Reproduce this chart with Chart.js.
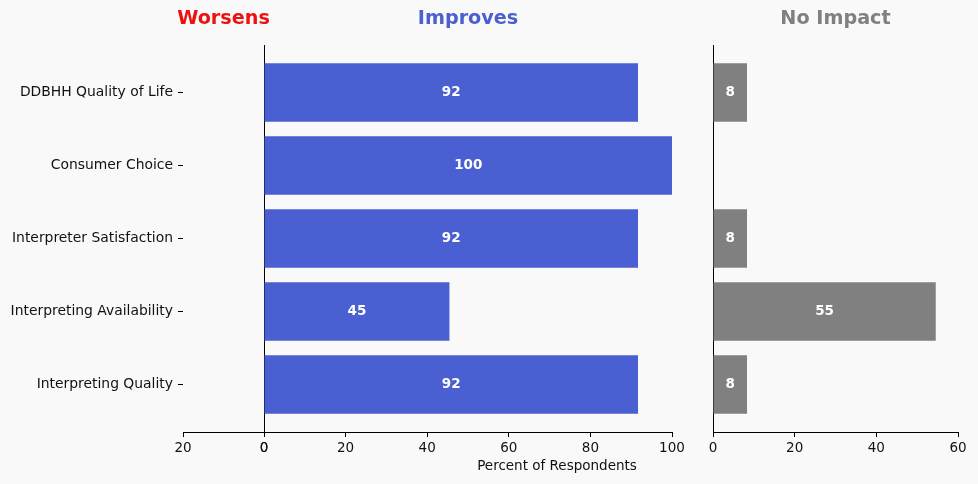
<!DOCTYPE html>
<html>
<head>
<meta charset="utf-8">
<script src="https://cdn.jsdelivr.net/npm/chart.js@4.4.1/dist/chart.umd.min.js"></script>
<style>
  html, body { margin: 0; padding: 0; background: #f9f9f9; }
  body { width: 978px; height: 484px; position: relative; overflow: hidden; font-family: 'DejaVu Sans', sans-serif; }
  canvas { position: absolute; top: 0; }
  #xlabel { position: absolute; top: 457px; left: 457px; width: 200px; text-align: center; font-size: 13.5px; color: #111; }
</style>
</head>
<body>
<canvas id="chartWorsens" width="294" height="484" style="left:0px"></canvas>
<canvas id="chartImproves" width="468" height="484" style="left:234px"></canvas>
<canvas id="chartNoImpact" width="295" height="484" style="left:683px"></canvas>
<div id="xlabel">Percent of Respondents</div>
<script>
// dados do gráfico (de cima para baixo)
const categorias = ['DDBHH Quality of Life', 'Consumer Choice', 'Interpreter Satisfaction', 'Interpreting Availability', 'Interpreting Quality'];
const piora = [0, 0, 0, 0, 0];
const melhora = [91.67, 100, 91.67, 45.45, 91.67];
const semImpacto = [8.33, 0, 8.33, 54.55, 8.33];

const FONTE = "'DejaVu Sans', sans-serif";
const AZUL = '#4a5fd1';
const CINZA = '#808080';
const VERMELHO = '#ee1111';

// rótulos brancos dentro das barras + título do painel
const rotulosBarras = {
    id: 'rotulosBarras',
    afterDatasetsDraw(chart, args, opts) {
        const ctx = chart.ctx;
        chart.data.datasets.forEach((ds, di) => {
            const meta = chart.getDatasetMeta(di);
            meta.data.forEach((el, i) => {
                const v = ds.data[i].x;
                if (!v) return;
                ctx.save();
                ctx.fillStyle = '#ffffff';
                ctx.font = `bold 13.5px ${FONTE}`;
                ctx.textAlign = 'center';
                ctx.textBaseline = 'middle';
                ctx.fillText(String(Math.round(v)), (el.x + el.base) / 2, el.y);
                ctx.restore();
            });
        });
        // título centrado sobre a área do gráfico (sem encolher o texto)
        const area = chart.chartArea;
        ctx.save();
        ctx.fillStyle = opts.cor;
        ctx.font = `bold 19.2px ${FONTE}`;
        ctx.textAlign = 'center';
        ctx.textBaseline = 'middle';
        ctx.fillText(opts.texto, (area.left + area.right) / 2, 19);
        ctx.restore();
    }
};

function montarPontos(valores) {
    return valores.map((v, i) => ({ x: v, y: i }));
}

function criarGrafico(id, cfg) {
    const ctx = document.getElementById(id).getContext('2d');
    return new Chart(ctx, {
        type: 'bar',
        data: {
            datasets: [{
                data: montarPontos(cfg.valores),
                backgroundColor: cfg.cor,
                borderWidth: 0,
                categoryPercentage: 1,
                barPercentage: 0.8
            }]
        },
        plugins: [rotulosBarras],
        options: {
            indexAxis: 'y',
            responsive: false,
            animation: false,
            layout: { padding: cfg.padding },
            plugins: {
                legend: { display: false },
                tooltip: { enabled: false },
                title: { display: false },
                rotulosBarras: { texto: cfg.titulo, cor: cfg.corTitulo }
            },
            scales: {
                x: {
                    type: 'linear',
                    min: 0,
                    max: cfg.max,
                    reverse: !!cfg.invertido,
                    afterFit: s => { s.height = 52; },
                    ticks: { stepSize: 20, color: '#111', padding: 3, maxRotation: 0, font: { family: FONTE, size: 13.5 } },
                    grid: { drawOnChartArea: false, drawTicks: true, tickLength: 5, color: '#000' },
                    border: { display: true, color: '#000', width: 1 }
                },
                y: {
                    type: 'linear',
                    reverse: true,
                    offset: false,
                    min: -0.65,
                    max: 4.65,
                    afterBuildTicks: s => { s.ticks = categorias.map((c, i) => ({ value: i })); },
                    afterFit: s => { s.width = cfg.larguraY; },
                    ticks: {
                        display: !!cfg.mostrarRotulos,
                        color: '#111',
                        padding: 5,
                        font: { family: FONTE, size: 13.9 },
                        callback: v => categorias[v]
                    },
                    grid: { display: !!cfg.mostrarRotulos, offset: false, drawOnChartArea: false, drawTicks: true, tickLength: 5, color: '#000' },
                    border: { display: cfg.bordaY, color: '#000', width: 1 }
                }
            }
        }
    });
}

criarGrafico('chartWorsens', {
    valores: piora, cor: VERMELHO, titulo: 'Worsens', corTitulo: VERMELHO,
    max: 20, invertido: true, larguraY: 183, mostrarRotulos: true, bordaY: false,
    padding: { top: 45, left: 0, right: 30, bottom: 0 }
});
criarGrafico('chartImproves', {
    valores: melhora, cor: AZUL, titulo: 'Improves', corTitulo: AZUL,
    max: 100, larguraY: 0, mostrarRotulos: false, bordaY: true,
    padding: { top: 45, left: 30, right: 30, bottom: 0 }
});
criarGrafico('chartNoImpact', {
    valores: semImpacto, cor: CINZA, titulo: 'No Impact', corTitulo: CINZA,
    max: 60, larguraY: 0, mostrarRotulos: false, bordaY: true,
    padding: { top: 45, left: 30, right: 20, bottom: 0 }
});
</script>
</body>
</html>
